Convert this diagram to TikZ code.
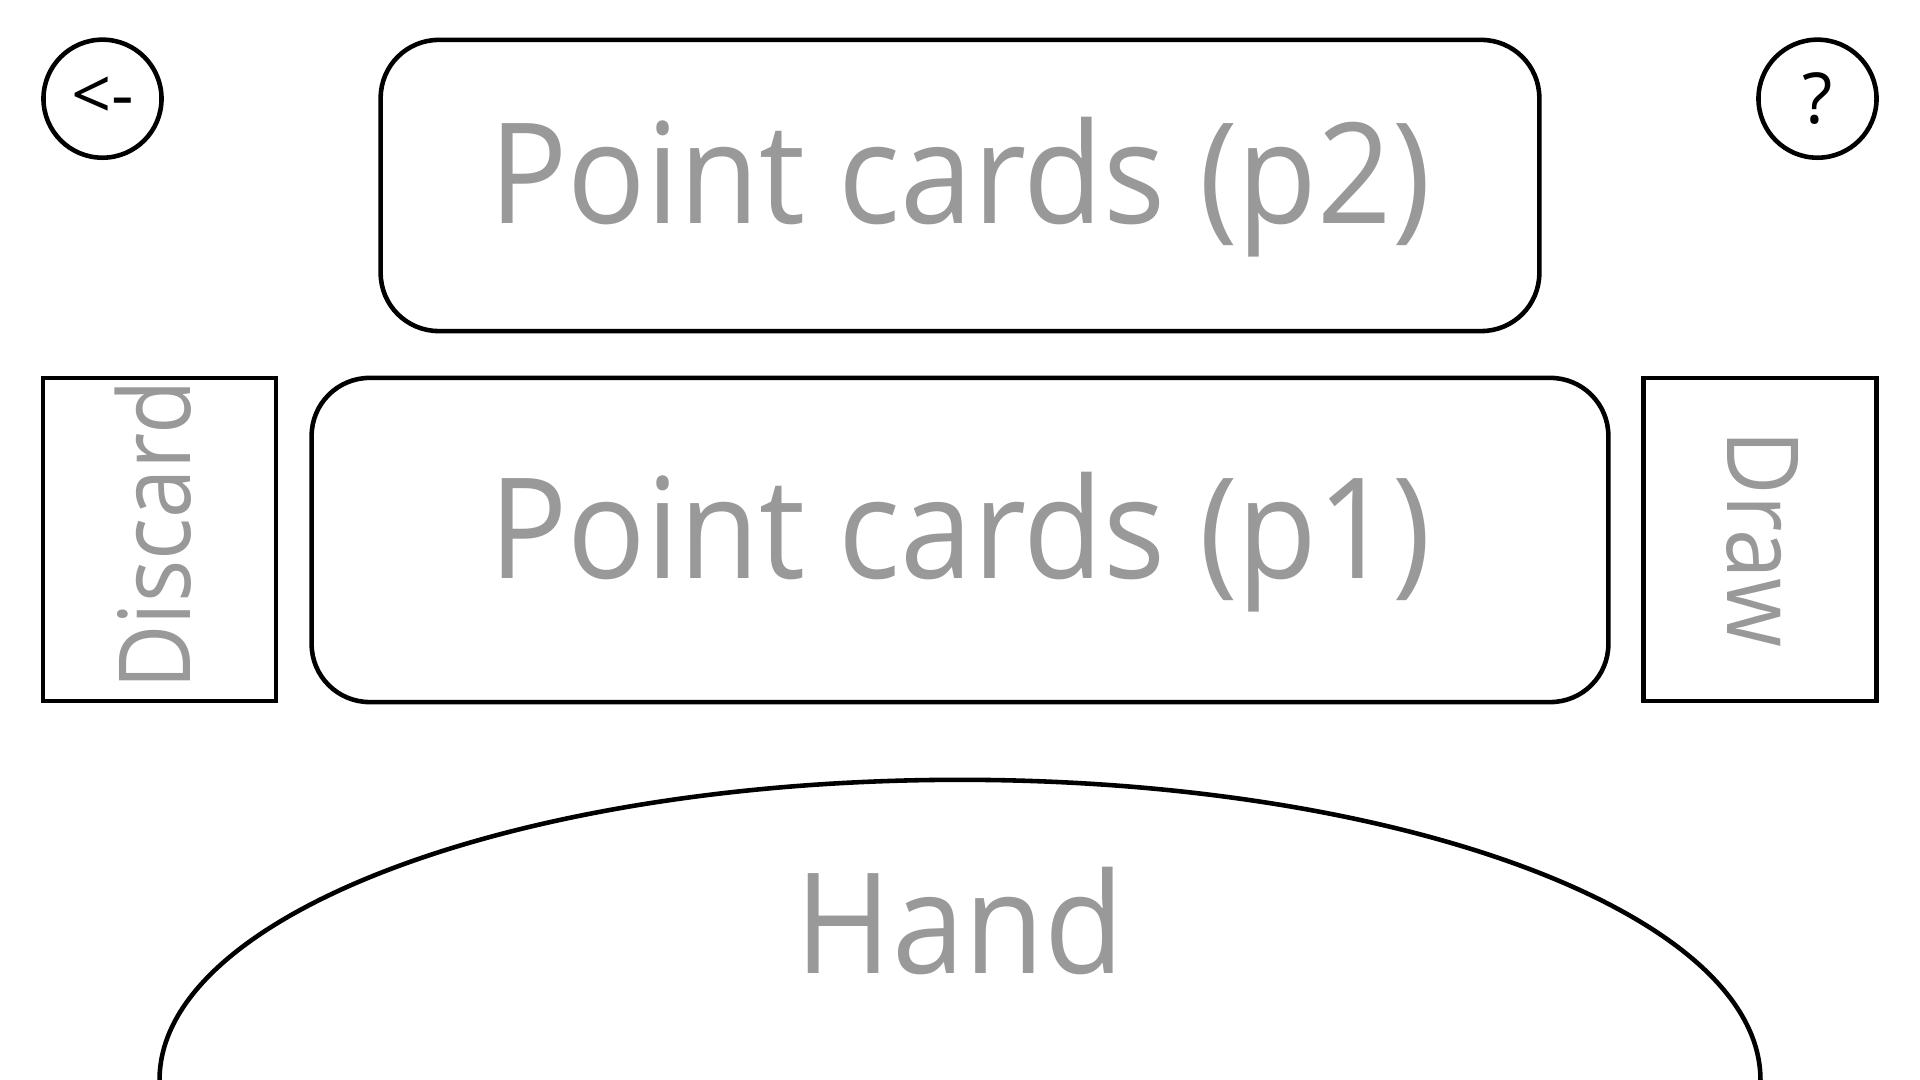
\documentclass[tikz,border=0pt]{standalone}
\usepackage{fontspec}
\setmainfont{Open Sans}
\newfontfamily\panefont{Open Sans}[FakeStretch=0.93]
\newfontfamily\pilefont{Open Sans}[FakeStretch=0.89]
\usetikzlibrary{shapes.geometric}
\definecolor{labelgray}{HTML}{999999}
\tikzstyle{pane}=[draw, line width=1.3pt, rounded corners=0.58cm, inner sep=0pt]
\tikzstyle{pile}=[draw, line width=1.3pt, inner sep=0pt, minimum width=2.33cm, minimum height=3.23cm]
\tikzstyle{button}=[draw, circle, line width=1.3pt, minimum size=1.18cm, inner sep=0pt, font=\fontsize{20}{20}\selectfont]
\tikzstyle{bigtext}=[text=labelgray, anchor=base, inner sep=0pt, font=\panefont\fontsize{39.8}{40}\selectfont]
\tikzstyle{piletext}=[text=labelgray, anchor=base, inner sep=0pt, font=\pilefont\fontsize{28.3}{28}\selectfont]

\begin{document}
\begin{tikzpicture}[x=0.01cm, y=-0.01cm]
  % page of 1920 x 1080 px, 1px = 0.01cm
  \useasboundingbox (0,0) rectangle (1920,1080);
  \clip (0,0) rectangle (1920,1080);
  % buttons
  \node[button] (back) at (102.5,98.7) {<-};
  \node[button] (help) at (1817.5,98.7) {?};
  % point card areas
  \node[pane, minimum width=11.58cm, minimum height=2.91cm] (p2box) at (960,185.5) {};
  \node[bigtext] (p2text) at (960,224) {Point cards (p2)};
  \node[pane, minimum width=12.96cm, minimum height=3.24cm] (p1box) at (960,540) {};
  \node[bigtext] (p1text) at (960,579) {Point cards (p1)};
  % piles
  \node[pile] (discard) at (159.5,539.5) {};
  \node[piletext, rotate=90] (discardtext) at (190,535) {Discard};
  \node[pile] (draw) at (1760,539.5) {};
  \node[piletext, rotate=-90] (drawtext) at (1727,539) {Draw};
  % hand
  \node[draw, ellipse, line width=1.3pt, inner sep=0pt, minimum width=16cm, minimum height=6cm] (hand) at (960,1080) {};
  \node[bigtext] (handtext) at (960,973.5) {Hand};
\end{tikzpicture}
\end{document}
